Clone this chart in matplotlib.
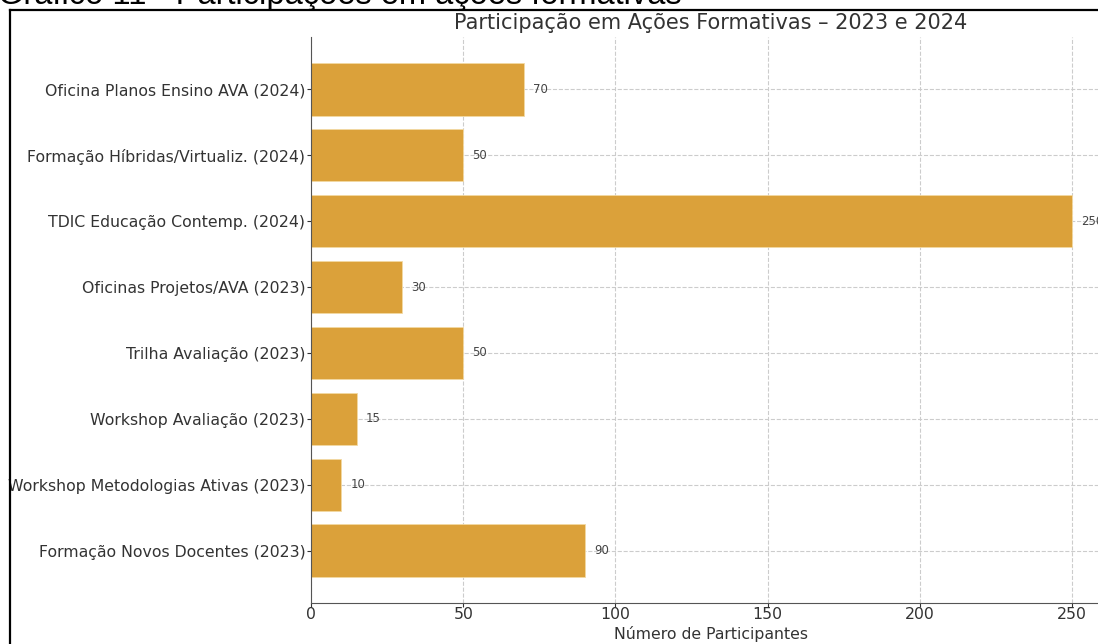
import matplotlib.pyplot as plt
from matplotlib.lines import Line2D

plt.rcParams['font.family'] = ['DejaVu Sans']

# participation per training action, bottom to top
acoes = ['Formação Novos Docentes (2023)',
         'Workshop Metodologias Ativas (2023)',
         'Workshop Avaliação (2023)',
         'Trilha Avaliação (2023)',
         'Oficinas Projetos/AVA (2023)',
         'TDIC Educação Contemp. (2024)',
         'Formação Híbridas/Virtualiz. (2024)',
         'Oficina Planos Ensino AVA (2024)']
participantes = [90, 10, 15, 50, 30, 250, 50, 70]

W, H = 1098, 644
fig = plt.figure(figsize=(W/100, H/100), dpi=100)

# page heading above the framed chart
fig.text(-2/W, 1-4/H, 'Gráfico 11 - Participações em ações formativas',
         family='Liberation Sans', fontsize=23.5, va='baseline', ha='left')
fig.add_artist(Line2D([10/W, 10/W], [0, 1-10/H], color='black', lw=1.6,
                      transform=fig.transFigure))
fig.add_artist(Line2D([10/W, 1], [1-10/H, 1-10/H], color='black', lw=1.6,
                      transform=fig.transFigure))

ax = fig.add_axes([311/W, 41/H, 799/W, 566/H])
bars = ax.barh(acoes, participantes, color='#DBA13A', edgecolor='#F3D9A3', linewidth=0.6)
for b, v in zip(bars, participantes):
    ax.text(b.get_width()+3, b.get_y()+b.get_height()/2, str(v),
            va='center', ha='left', fontsize=8.5, color='#444444')

ax.set_title('Participação em Ações Formativas – 2023 e 2024', fontsize=15, color='#333333', pad=6)
ax.set_xlabel('Número de Participantes', fontsize=11.3, color='#333333', labelpad=3)
ax.tick_params(labelsize=11.3, colors='#333333', length=3, pad=1)
ax.tick_params(axis='x', pad=0)
ax.grid(True, linestyle='--', color='#cccccc', linewidth=0.8)
ax.set_axisbelow(True)
for s in ['top', 'right']:
    ax.spines[s].set_visible(False)
for s in ['left', 'bottom']:
    ax.spines[s].set_color('#555555')

plt.savefig('out.png', dpi=100)
